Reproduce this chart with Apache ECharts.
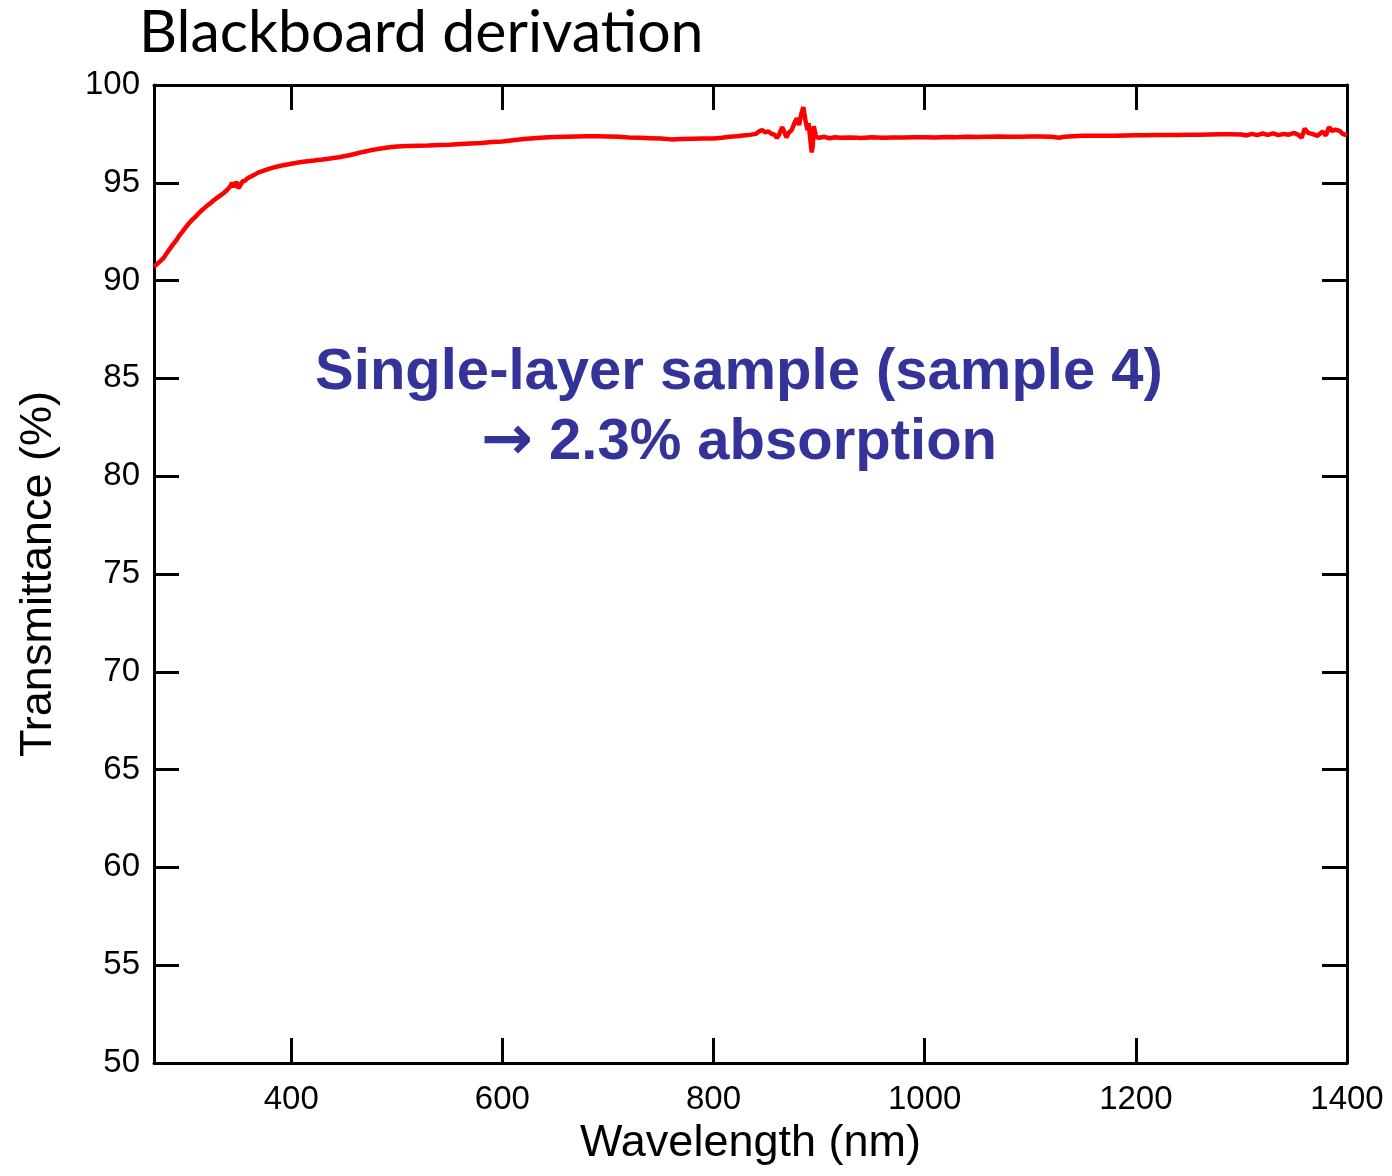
<!DOCTYPE html>
<html>
<head>
<meta charset="utf-8">
<script src="https://cdn.jsdelivr.net/npm/echarts@6/dist/echarts.min.js"></script>
<style>
html,body{margin:0;padding:0;background:#fff;}
#chart{width:1392px;height:1176px;}
</style>
</head>
<body>
<div id="chart"></div>
<script>
// Wavelength (nm)
var wavelength = [
270,273,276,279,282,285,288,291,294,297,300,303,306,309,312,315,318,321,324,327,
330,333,336,339,342,344,346,348,350,352,354,356,358,361,364,367,370,374,378,382,
386,390,395,400,405,410,415,420,425,430,435,440,445,450,455,460,465,470,475,480,
485,490,495,500,510,520,530,540,550,560,570,580,590,600,610,620,630,640,650,660,
670,680,690,700,710,720,730,740,750,760,770,780,790,800,808,815,822,828,834,840,
843,846,849,852,855,858,860,862,865,867,869,871,874,877,879,881,883,885,887,889,
890,891,893,894,895,897,900,905,910,915,920,930,940,950,960,970,980,990,1000,1010,
1020,1030,1040,1050,1060,1070,1080,1090,1100,1110,1120,1127,1133,1140,1150,1160,1170,1180,1190,1200,
1210,1220,1230,1240,1250,1260,1270,1280,1290,1300,1305,1310,1315,1320,1325,1330,1335,1340,1345,1350,
1354,1357,1360,1363,1367,1372,1377,1380,1383,1386,1389,1393,1396,1400
];
// Transmittance (%)
var transmittance = [
90.70,90.85,91.00,91.15,91.40,91.62,91.85,92.05,92.30,92.50,92.72,92.92,93.10,93.25,93.42,93.58,93.72,93.86,93.98,94.12,
94.24,94.36,94.48,94.62,94.80,95.00,94.78,95.05,94.72,94.90,95.08,95.10,95.20,95.30,95.38,95.47,95.55,95.62,95.70,95.76,
95.82,95.87,95.92,95.97,96.02,96.06,96.10,96.13,96.16,96.19,96.23,96.27,96.31,96.36,96.41,96.47,96.54,96.60,96.66,96.71,
96.75,96.79,96.83,96.86,96.88,96.90,96.91,96.93,96.95,96.98,97.01,97.04,97.08,97.11,97.18,97.24,97.28,97.31,97.34,97.36,
97.37,97.38,97.38,97.37,97.35,97.32,97.30,97.28,97.26,97.22,97.24,97.25,97.26,97.27,97.30,97.35,97.38,97.42,97.45,97.50,
97.62,97.70,97.58,97.62,97.50,97.45,97.30,97.45,97.85,97.60,97.32,97.55,97.70,98.10,98.30,97.95,98.50,98.87,98.20,97.70,
98.05,97.55,96.55,96.90,97.90,97.35,97.30,97.35,97.28,97.33,97.30,97.32,97.29,97.33,97.30,97.32,97.31,97.33,97.33,97.32,
97.34,97.33,97.35,97.34,97.36,97.37,97.36,97.36,97.37,97.37,97.36,97.30,97.36,97.38,97.40,97.40,97.41,97.41,97.42,97.43,
97.43,97.44,97.45,97.45,97.46,97.46,97.47,97.48,97.48,97.47,97.42,97.50,97.44,97.52,97.45,97.53,97.44,97.50,97.46,97.55,
97.45,97.30,97.78,97.55,97.50,97.40,97.62,97.42,97.85,97.65,97.72,97.65,97.50,97.42
];
var xTicks = [400, 600, 800, 1000, 1200, 1400];
var chartTitle = 'Blackboard derivation';
var xName = 'Wavelength (nm)';
var yName = 'Transmittance (%)';
var note1 = 'Single-layer sample (sample 4)';
var note2Arrow = '\u2192';
var note2Text = ' 2.3% absorption';

var chart = echarts.init(document.getElementById('chart'), null, {renderer: 'canvas'});
var seriesData = wavelength.map(function (w, i) { return [w, transmittance[i]]; });
var axisFont = 'Liberation Sans, Arial, sans-serif';
var tickStyle = {show: true, inside: true, length: 25, lineStyle: {color: '#000', width: 3}};
var lineStyle = {color: '#000', width: 3};

chart.setOption({
  animation: false,
  backgroundColor: '#fff',
  title: {
    text: chartTitle,
    left: 134, top: -2,
    textStyle: {fontFamily: 'Lato, Open Sans, sans-serif', fontWeight: 'normal', fontSize: 59, color: '#000'}
  },
  grid: {left: 154, right: 45, top: 85, bottom: 113, containLabel: false},
  xAxis: [{
    type: 'value', min: 270, max: 1400, position: 'bottom',
    name: xName, nameLocation: 'middle', nameGap: 45,
    nameTextStyle: {fontFamily: axisFont, fontSize: 45, color: '#000'},
    axisLine: {show: true, lineStyle: lineStyle},
    axisTick: Object.assign({customValues: xTicks}, tickStyle),
    axisLabel: {customValues: xTicks, fontFamily: axisFont, fontSize: 33, color: '#000', margin: 20,
      formatter: function (v) { return String(v); }},
    splitLine: {show: false}
  }, {
    type: 'value', min: 270, max: 1400, position: 'top',
    axisLine: {show: true, lineStyle: lineStyle},
    axisTick: Object.assign({customValues: xTicks}, tickStyle),
    axisLabel: {show: false},
    splitLine: {show: false}
  }],
  yAxis: [{
    type: 'value', min: 50, max: 100, interval: 5, position: 'left',
    name: yName, nameLocation: 'middle', nameGap: 93,
    nameTextStyle: {fontFamily: axisFont, fontSize: 45, color: '#000'},
    axisLine: {show: true, lineStyle: lineStyle},
    axisTick: tickStyle,
    axisLabel: {fontFamily: axisFont, fontSize: 33, color: '#000', margin: 14},
    splitLine: {show: false}
  }, {
    type: 'value', min: 50, max: 100, interval: 5, position: 'right',
    axisLine: {show: true, lineStyle: lineStyle},
    axisTick: tickStyle,
    axisLabel: {show: false},
    splitLine: {show: false}
  }],
  graphic: [{
    type: 'text',
    style: {text: note1, x: 739, y: 373, align: 'center', verticalAlign: 'middle',
      fontFamily: 'Liberation Sans, Arial, sans-serif', fontWeight: 'bold', fontSize: 58, fill: '#333399'}
  }, {
    type: 'text',
    style: {text: '{a|' + note2Arrow + '}{b|' + note2Text + '}', x: 739, y: 443, align: 'center', verticalAlign: 'middle',
      rich: {
        a: {fontFamily: 'DejaVu Sans', fontWeight: 'bold', fontSize: 62, fill: '#333399', color: '#333399'},
        b: {fontFamily: 'Liberation Sans, Arial, sans-serif', fontWeight: 'bold', fontSize: 58, fill: '#333399', color: '#333399'}
      }}
  }],
  series: [{
    type: 'line', xAxisIndex: 0, yAxisIndex: 0,
    data: seriesData, showSymbol: false, smooth: false,
    lineStyle: {color: '#ff0000', width: 4.5},
    clip: true
  }]
});
</script>
</body>
</html>
